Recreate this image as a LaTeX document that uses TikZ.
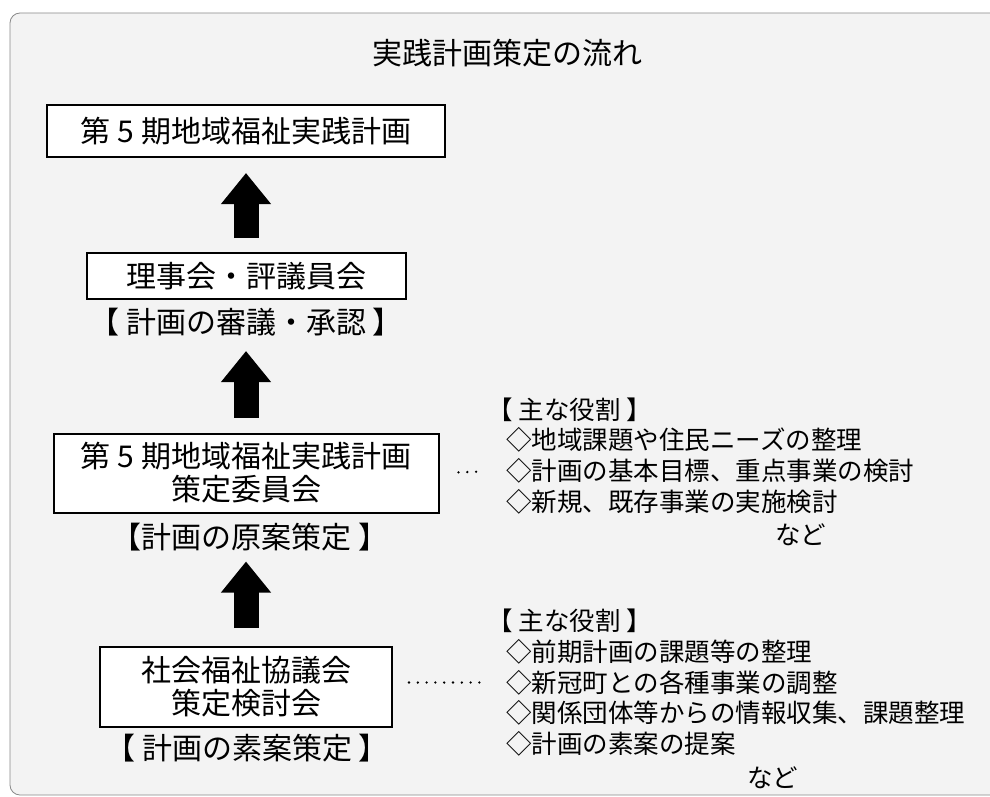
\documentclass[tikz,border=0pt]{standalone}
\usepackage{fontspec}
\setmainfont{Noto Sans CJK JP}
\usetikzlibrary{positioning,arrows.meta}

\definecolor{paper}{HTML}{F3F3F3}
\definecolor{framegray}{HTML}{8A8A8A}

\begin{document}
\begin{tikzpicture}[x=0.5pt,y=-0.5pt]

	\tikzset{stage/.style={draw=black,line width=1pt,fill=white,inner sep=0pt,align=center,
				font=\fontsize{15pt}{16.5pt}\selectfont},
		note/.style={inner sep=0pt,font=\fontsize{15pt}{16pt}\selectfont},
		role/.style={inner sep=0pt,anchor=west,font=\fontsize{12.75pt}{15pt}\selectfont},
		uparrow/.style={line width=12.5pt,-{Triangle[width=24pt,length=15.5pt]}},
		dotsline/.style={line width=1.3pt,line cap=round,dash pattern=on 0pt off 4.4pt}
	}

	\useasboundingbox (0,0) rectangle (990,797);
	\fill[white] (0,0) rectangle (990,797);
	\draw[framegray,fill=paper,rounded corners=5pt] (10,13) rectangle (1010,795);

	\node[note] (title) at (507,53) {実践計画策定の流れ};

	% left column
	\node[stage,minimum width=199pt,minimum height=26pt] (plan) at (246,131) {第 5 期地域福祉実践計画};
	\node[stage,minimum width=159.5pt,minimum height=23pt] (board) at (246,276) {理事会・評議員会};
	\node[note] (board_l) at (246,322) {【 計画の審議・承認 】};
	\node[stage,minimum width=192.5pt,minimum height=39.5pt] (comm) at (246,473) {第 5 期地域福祉実践計画\\策定委員会};
	\node[note] (comm_l) at (250,537) {【計画の原案策定 】};
	\node[stage,minimum width=146pt,minimum height=40pt] (care) at (246,687) {社会福祉協議会\\策定検討会};
	\node[note] (care_l) at (247,748) {【 計画の素案策定 】};

	\draw[uparrow,shorten <=7pt,shorten >=7.5pt] (board.north) -- (plan.south);
	\draw[uparrow,shorten <=7.5pt,shorten >=25.5pt] (comm.north) -- (board.south);
	\draw[uparrow,shorten <=9pt,shorten >=24pt] (care.north) -- (comm.south);

	% roles
	\node[role] (r1-h) at (487,410) {【 主な役割 】};
	\foreach \t [count=\i] in {◇地域課題や住民ニーズの整理,◇計画の基本目標、重点事業の検討,◇新規、既存事業の実施検討} {
			\node[role] (r1-\i) at (506,{440+30.7*(\i-1)}) {\t};
		}
	\node[role] (r1-etc) at (775,535) {など};

	\node[role] (r2-h) at (487,621) {【 主な役割 】};
	\foreach \t [count=\i] in {◇前期計画の課題等の整理,◇新冠町との各種事業の調整,◇関係団体等からの情報収集、課題整理,◇計画の素案の提案} {
			\node[role] (r2-\i) at (506,{652+30.5*(\i-1)}) {\t};
		}
	\node[role] (r2-etc) at (747,778) {など};

	\draw[dotsline,shorten <=9.5pt,shorten >=12pt] (comm.east) -- (r1-2.west);
	\draw[dotsline,shorten <=8pt,shorten >=12pt] (r2-2.west -| care.east) -- (r2-2.west);
\end{tikzpicture}
\end{document}
